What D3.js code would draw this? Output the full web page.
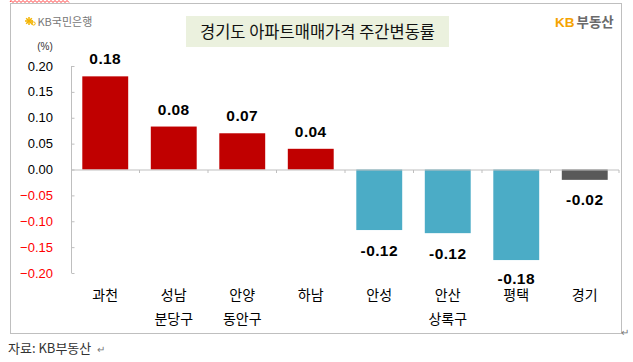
<!DOCTYPE html>
<html><head><meta charset="utf-8">
<script src="https://cdn.jsdelivr.net/npm/d3@7"></script>
<style>html,body{margin:0;padding:0;background:#fff;}svg{display:block;}</style>
</head><body>
<svg id="c" width="633" height="362"></svg>
<script>
const categories = ["과천", "성남", "안양", "하남", "안성", "안산", "평택", "경기"];
const subLabels = ["", "분당구", "동안구", "", "", "상록구", "", ""];
const values = [0.18, 0.083, 0.07, 0.04, -0.117, -0.123, -0.175, -0.02];
const valueLabels = ["0.18", "0.08", "0.07", "0.04", "-0.12", "-0.12", "-0.18", "-0.02"];
const yTicks = [0.20, 0.15, 0.10, 0.05, 0.00, -0.05, -0.10, -0.15, -0.20];

const svg = d3.select("#c");
const KR = "'Noto Sans CJK KR','Noto Sans',sans-serif";
const NUM = "'Liberation Sans',Arial,sans-serif";

// spell-check red wavy line
svg.append("path").attr("d", "M10,2 " + d3.range(11, 71, 2).map((x, i) => `L${x},${i % 2 ? 2.5 : 0.5}`).join(" "))
  .attr("fill", "none").attr("stroke", "#ff3b3b").attr("stroke-width", 1);

// frame
svg.append("rect").attr("x", 10.5).attr("y", 3.5).attr("width", 611).attr("height", 330)
  .attr("fill", "#fff").attr("stroke", "#BFBFBF").attr("stroke-width", 1);

const x = d3.scaleBand().domain(categories).range([71, 619]).paddingInner(0.33).paddingOuter(0.165);
const y = d3.scaleLinear().domain([-0.2, 0.2]).range([273, 66]);

// title box
svg.append("rect").attr("x", 186).attr("y", 16).attr("width", 263).attr("height", 31).attr("fill", "#EBF1DE");
svg.append("text").attr("x", 317.5).attr("y", 37.5).attr("text-anchor", "middle")
  .attr("font-family", KR).attr("font-size", 16.5).attr("fill", "#111")
  .text("경기도 아파트매매가격 주간변동률");

// KB국민은행 logo (star mark)
const logo = svg.append("g").attr("transform", "translate(29,21)");
[0, 45, 90, 135].forEach(a => {
  logo.append("line").attr("x1", -4).attr("y1", 0).attr("x2", 4).attr("y2", 0)
    .attr("transform", `rotate(${a})`).attr("stroke", "#F3B300").attr("stroke-width", 1.5);
});
logo.append("path").attr("d", "M3,-1 V4 M3,2.5 a1.6,1.6 0 1 0 3.2,0 a1.6,1.6 0 1 0 -3.2,0")
  .attr("fill", "none").attr("stroke", "#F3B300").attr("stroke-width", 1);
svg.append("text").attr("x", 37.5).attr("y", 25.5).attr("font-family", KR).attr("font-size", 11)
  .attr("fill", "#777").text("KB국민은행");

// KB부동산 logo
const kb = svg.append("text").attr("x", 555).attr("y", 27).attr("font-family", KR)
  .attr("font-size", 13.5).attr("font-weight", "bold");
kb.append("tspan").attr("fill", "#F5A300").attr("font-family", NUM).text("KB");
kb.append("tspan").attr("fill", "#6b6b6b").attr("dx", 2).text("부동산");

// (%) unit
svg.append("text").attr("x", 45).attr("y", 50).attr("text-anchor", "middle")
  .attr("font-family", NUM).attr("font-size", 10).attr("fill", "#333").text("(%)");

// y axis
const yAxis = d3.axisRight(y).tickValues(yTicks).tickSize(3).tickFormat("");
const gy = svg.append("g").attr("transform", "translate(71,0)").call(yAxis);
gy.select(".domain").attr("stroke", "#BFBFBF").attr("d", `M0.5,${y(0.2)}V${y(-0.2)}`);
gy.selectAll(".tick line").attr("stroke", "#BFBFBF").attr("transform", "translate(0.5,0)");
svg.append("g").selectAll("text").data(yTicks).join("text")
  .attr("x", 53).attr("y", d => y(d) + 4.5).attr("text-anchor", "end")
  .attr("font-family", NUM).attr("font-size", 13)
  .attr("fill", d => d < 0 ? "#FF0000" : "#000")
  .text(d => d3.format(".2f")(d));

// bars
const colorOf = (d, i) => categories[i] === "경기" ? "#595959" : (d >= 0 ? "#C00000" : "#4BACC6");
svg.append("g").selectAll("rect").data(values).join("rect")
  .attr("x", (d, i) => x(categories[i]))
  .attr("width", x.bandwidth())
  .attr("y", d => y(Math.max(0, d)))
  .attr("height", d => Math.abs(y(d) - y(0)))
  .attr("fill", colorOf);

// zero axis with category ticks
const xAxis = d3.axisBottom(x).tickSize(3).tickFormat("");
const gx = svg.append("g").attr("transform", `translate(0,${y(0)})`).call(xAxis);
gx.select(".domain").attr("stroke", "#BFBFBF").attr("d", `M71,0.5H619`);
gx.selectAll(".tick").remove();
const bounds = d3.range(categories.length + 1).map(i => 71 + i * x.step());
gx.selectAll("line.b").data(bounds.slice(1)).join("line").attr("class", "b")
  .attr("x1", d => d).attr("x2", d => d).attr("y1", 0.5).attr("y2", 3.5).attr("stroke", "#BFBFBF");

// value labels
svg.append("g").selectAll("text").data(values).join("text")
  .attr("x", (d, i) => x(categories[i]) + x.bandwidth() / 2)
  .attr("y", d => d >= 0 ? y(d) - 12 : Math.min(y(d) + 25.5, 284))
  .attr("text-anchor", "middle").attr("font-family", NUM).attr("font-size", 15.5)
  .attr("font-weight", "bold").attr("letter-spacing", 0.4).attr("fill", "#000")
  .text((d, i) => valueLabels[i]);

// category labels
const cl = svg.append("g").attr("font-family", KR).attr("font-size", 14).attr("fill", "#000").attr("text-anchor", "middle");
cl.selectAll("text.l1").data(categories).join("text").attr("class", "l1")
  .attr("x", d => x(d) + x.bandwidth() / 2).attr("y", 299.5).text(d => d);
cl.selectAll("text.l2").data(subLabels).join("text").attr("class", "l2")
  .attr("x", (d, i) => x(categories[i]) + x.bandwidth() / 2).attr("y", 323.5).text(d => d);

// footer
svg.append("text").attr("x", 8).attr("y", 353).attr("font-family", KR).attr("font-size", 13)
  .attr("fill", "#333").text("자료: KB부동산");
svg.append("text").attr("x", 97).attr("y", 353).attr("font-family", KR).attr("font-size", 10)
  .attr("fill", "#777").text("↵");
svg.append("text").attr("x", 621).attr("y", 336).attr("font-family", KR).attr("font-size", 10)
  .attr("fill", "#777").text("↵");
</script>
</body></html>
